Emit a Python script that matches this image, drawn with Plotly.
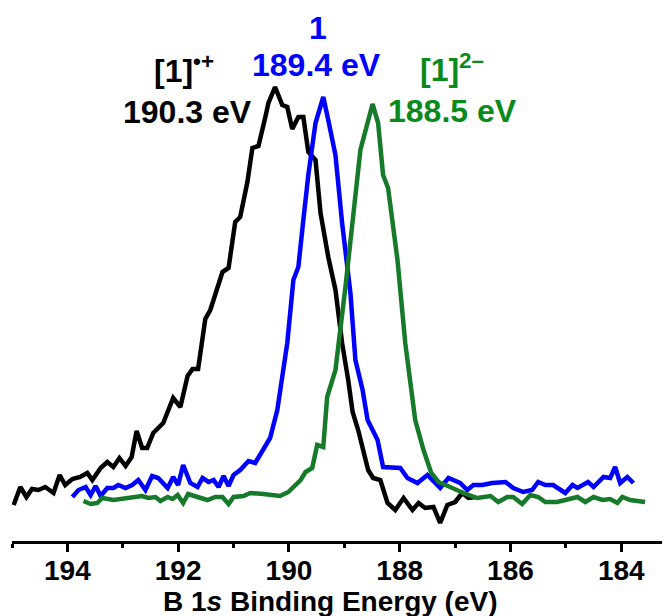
import plotly.graph_objects as go

# B 1s XPS spectra (binding energy in eV, intensity in arbitrary units)
cation_energy = [194.97, 194.85, 194.74, 194.64, 194.52, 194.40, 194.25, 194.14, 194.04, 193.91,
                 193.77, 193.64, 193.55, 193.40, 193.28, 193.17, 193.06, 192.95, 192.84, 192.75,
                 192.65, 192.56, 192.45, 192.27, 192.09, 191.96, 191.83, 191.74, 191.64, 191.51,
                 191.42, 191.33, 191.20, 191.09, 190.97, 190.88, 190.75, 190.66, 190.55, 190.43,
                 190.37, 190.25, 190.12, 190.03, 189.94, 189.83, 189.74, 189.65, 189.52, 189.43,
                 189.29, 189.16, 189.04, 188.93, 188.85, 188.75, 188.57, 188.48, 188.35, 188.22,
                 188.08, 187.93, 187.77, 187.66, 187.54, 187.39, 187.27, 187.14, 187.00, 186.87,
                 186.76, 186.63]
cation_intensity = [36, 54, 44, 52, 51, 54, 48, 66, 56, 62,
                    64, 68, 61, 73, 79, 74, 83, 75, 84, 110,
                    93, 93, 108, 118, 143, 134, 165, 172, 172, 222,
                    231, 248, 269, 273, 319, 324, 359, 393, 395, 423,
                    438, 454, 436, 434, 412, 424, 424, 389, 381, 328,
                    284, 251, 198, 161, 129, 111, 71, 63, 61, 38,
                    31, 43, 31, 38, 33, 34, 18, 36, 39, 48,
                    43, 44]

neutral_energy = [193.91, 193.80, 193.67, 193.58, 193.49, 193.40, 193.28, 193.17, 193.08, 192.95,
                  192.83, 192.72, 192.59, 192.47, 192.36, 192.19, 192.09, 192.00, 191.91, 191.78,
                  191.65, 191.56, 191.45, 191.36, 191.27, 191.18, 191.09, 191.00, 190.88, 190.73,
                  190.61, 190.46, 190.34, 190.21, 190.10, 190.03, 189.92, 189.83, 189.74, 189.65,
                  189.52, 189.38, 189.29, 189.16, 189.04, 188.89, 188.80, 188.67, 188.58, 188.40,
                  188.30, 188.11, 187.99, 187.86, 187.68, 187.50, 187.27, 187.12, 186.91, 186.78,
                  186.67, 186.51, 186.33, 186.09, 185.95, 185.77, 185.61, 185.50, 185.37, 185.23,
                  185.01, 184.88, 184.79, 184.60, 184.50, 184.32, 184.20, 184.11, 184.02, 183.89,
                  183.78]
neutral_intensity = [44, 51, 54, 46, 55, 45, 53, 53, 56, 53,
                     56, 61, 51, 65, 63, 53, 64, 56, 76, 58,
                     54, 63, 59, 61, 54, 65, 55, 66, 71, 80,
                     78, 91, 103, 131, 168, 198, 261, 274, 321, 366,
                     418, 444, 421, 386, 318, 248, 181, 151, 121, 101,
                     74, 74, 73, 63, 58, 66, 53, 63, 58, 51,
                     56, 56, 58, 59, 53, 49, 51, 59, 56, 56,
                     48, 56, 53, 59, 54, 64, 63, 74, 58, 64,
                     58]

dianion_energy = [193.71, 193.58, 193.46, 193.37, 193.17, 192.92, 192.74, 192.65, 192.54, 192.41,
                  192.32, 192.19, 192.10, 192.01, 191.91, 191.82, 191.65, 191.47, 191.33, 191.20,
                  191.09, 191.00, 190.82, 190.70, 190.46, 190.16, 190.01, 189.79, 189.70, 189.58,
                  189.49, 189.38, 189.31, 189.16, 188.98, 188.84, 188.71, 188.49, 188.39, 188.30,
                  188.21, 188.04, 187.90, 187.72, 187.57, 187.43, 187.30, 187.09, 186.85, 186.60,
                  186.36, 186.22, 186.06, 185.95, 185.79, 185.64, 185.50, 185.37, 185.16, 185.01,
                  184.79, 184.65, 184.50, 184.34, 184.20, 184.07, 183.98, 183.84, 183.57]
dianion_intensity = [40, 37, 38, 43, 41, 43, 44, 45, 43, 44,
                     40, 44, 42, 46, 38, 47, 44, 41, 44, 44,
                     37, 44, 45, 48, 47, 45, 49, 61, 69, 73,
                     96, 94, 144, 171, 254, 321, 391, 437, 418, 366,
                     353, 281, 198, 121, 91, 68, 59, 54, 48, 43,
                     45, 39, 44, 44, 37, 46, 44, 39, 39, 41,
                     44, 39, 44, 41, 42, 38, 44, 41, 39]

x_ticks = [194, 192, 190, 188, 186, 184]
x_title = "B 1<i>s</i> Binding Energy (eV)"

BLACK = "#000000"
BLUE = "#0000FF"
GREEN_LINE = "#167a2a"
GREEN_TEXT = "#0a8a1a"
FONT = "Liberation Sans"

# page body adds an 8 px offset, so the figure is 8 px smaller than the window
W, H = 662, 608
ML, MR, MT, MB = 4, 0, 0, 75

fig = go.Figure()
fig.add_trace(go.Scatter(x=cation_energy, y=cation_intensity, mode="lines",
                         line=dict(color=BLACK, width=4.5), showlegend=False))
fig.add_trace(go.Scatter(x=neutral_energy, y=neutral_intensity, mode="lines",
                         line=dict(color=BLUE, width=4.5), showlegend=False))
fig.add_trace(go.Scatter(x=dianion_energy, y=dianion_intensity, mode="lines",
                         line=dict(color=GREEN_LINE, width=4.5), showlegend=False))

def ann(x, y, text, color):
    fig.add_annotation(x=x, y=y, xref="x", yref="y", text=text, showarrow=False,
                       xanchor="center", yanchor="middle",
                       font=dict(family=FONT, size=32, color=color, weight="bold"))

ann(189.47, 513, "1", BLUE)
ann(189.51, 476, "189.4 eV", BLUE)
ann(191.89, 472, "[1]<sup>•+</sup>", BLACK)
ann(191.83, 429, "190.3 eV", BLACK)
ann(187.05, 473, "[1]<sup>2–</sup>", GREEN_TEXT)
ann(187.05, 430, "188.5 eV", GREEN_TEXT)

plot_w = W - ML - MR
plot_h = H - MT - MB
fig.add_annotation(x=(330 - 12) / plot_w, y=-(601 - 541) / plot_h, xref="paper", yref="paper",
                   text=x_title, showarrow=False, xanchor="center", yanchor="middle",
                   font=dict(family=FONT, size=28, color="black", weight="bold"))

fig.update_layout(
    width=W, height=H,
    margin=dict(l=ML, r=MR, t=MT, b=MB, autoexpand=False),
    paper_bgcolor="white", plot_bgcolor="white",
    xaxis=dict(
        range=[195, 183.12], tickvals=x_ticks, ticktext=[str(v) for v in x_ticks],
        showline=True, linecolor="black", linewidth=3,
        ticks="outside", ticklen=8, tickwidth=3, tickcolor="black",
        minor=dict(ticks="outside", ticklen=4, tickwidth=3, tickcolor="black", dtick=1, tick0=195),
        showgrid=False, zeroline=False, automargin=False, ticklabelstandoff=-6,
        tickfont=dict(family=FONT, size=28, color="black", weight="bold"),
    ),
    yaxis=dict(range=[0, plot_h], visible=False, showgrid=False, zeroline=False, automargin=False),
)

fig.write_html("out.html")
